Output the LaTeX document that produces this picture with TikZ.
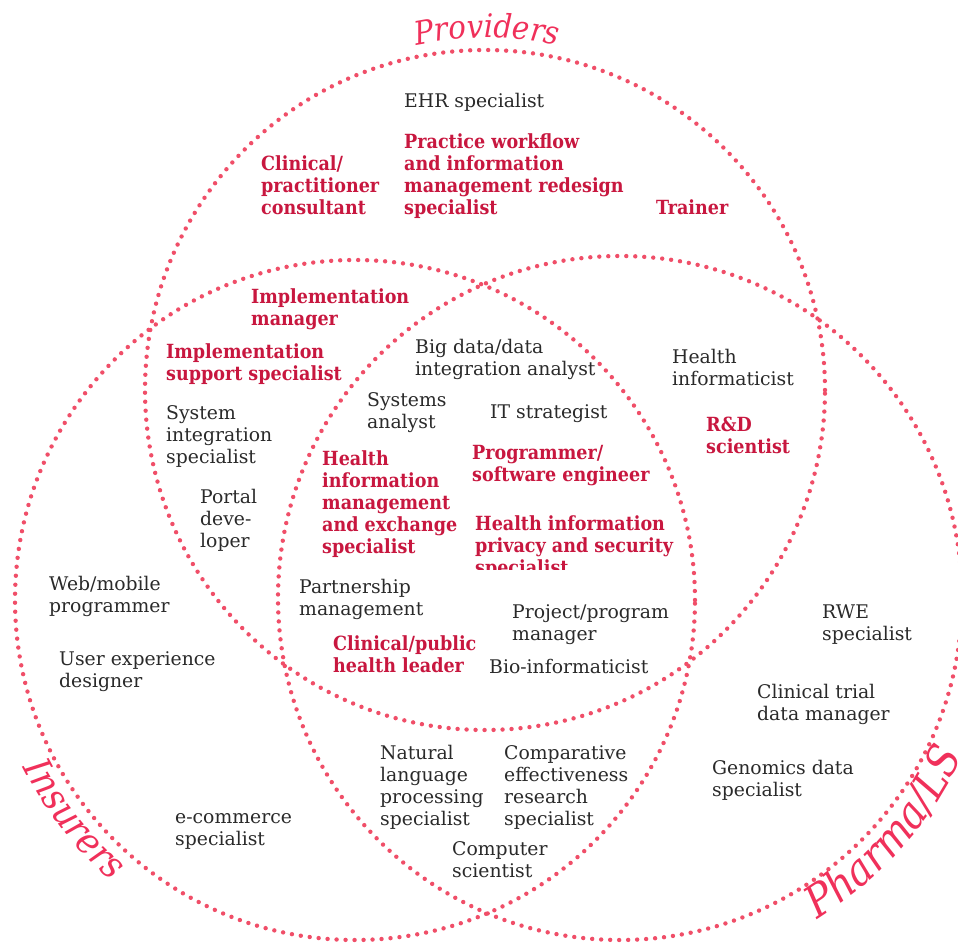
\documentclass[tikz,border=0pt]{standalone}
\usepackage{fontspec}
\setmainfont{DejaVu Serif}
\newfontfamily\condfont{DejaVu Serif Condensed}
\usetikzlibrary{decorations.text}
\definecolor{dotc}{HTML}{F04E68}
\definecolor{redt}{HTML}{C8173F}
\definecolor{blk}{HTML}{2A2A2A}
\definecolor{catc}{HTML}{F0305A}
\newcommand\provfont{\condfont\itshape\fontsize{32.5}{33}\selectfont}
\newcommand\insfont{\condfont\itshape\fontsize{38}{38}\selectfont}
\newcommand\phafont{\condfont\itshape\fontsize{44}{44}\selectfont}
\tikzset{
  venn/.style={draw=dotc, line width=4.4pt, line cap=round, dash pattern=on 0pt off 9pt},
  role/.style={anchor=base west, inner sep=0pt, align=left, text=blk,
    font=\fontsize{18.8}{22}\selectfont},
  keyrole/.style={role, text=redt, font=\condfont\bfseries\fontsize{19.5}{22}\selectfont},
}
\begin{document}
\begin{tikzpicture}[x=1pt,y=1pt]
\useasboundingbox (0,0) rectangle (958,-942);
\clip (0,0) rectangle (958,-942);
\fill[white] (0,0) rectangle (958,-942);
% circles
\draw[venn] (485,-390) circle[radius=340];
\draw[venn] (355,-600) circle[radius=340];
\draw[venn] (620,-598) circle[radius=342];
% category labels
\path[decorate, decoration={text along path, text align=center,
  text={|\provfont\color{catc}|Providers}}]
  (487,-390) ++(118:352) arc[start angle=118, end angle=62, radius=352];
\path[decorate, decoration={text along path, text align=center,
  text={|\insfont\color{catc}|Insurers}}]
  (355,-600) ++(196:372) arc[start angle=196, end angle=240, radius=372];
\path[decorate, decoration={text along path, text align=left,
  text={|\phafont\color{catc}|Pharma/LS}}]
  (620,-598) ++(-58.5:377) arc[start angle=-58.5, end angle=-5, radius=377];
% providers only (base = last line)
\node[role] (ehr) at (404,-107) {EHR specialist};
\node[keyrole] (pwf) at (404,-214) {Practice workflow\\and information\\management redesign\\specialist};
\node[keyrole] (cpc) at (261,-214) {Clinical/\\practitioner\\consultant};
\node[keyrole] (trn) at (656,-214) {Trainer};
% providers + insurers
\node[keyrole] (imm) at (251,-325) {Implementation\\manager};
\node[keyrole] (iss) at (166,-380) {Implementation\\support specialist};
\node[role] (sis) at (166,-463) {System\\integration\\specialist};
\node[role] (pdv) at (200,-547) {Portal\\deve-\\loper};
% insurers only
\node[role] (wmp) at (49,-612) {Web/mobile\\programmer};
\node[role] (uxd) at (59,-687) {User experience\\designer};
\node[role] (ecs) at (175,-845) {e-commerce\\specialist};
% centre
\node[role] (bdi) at (415,-375) {Big data/data\\integration analyst};
\node[role] (sya) at (367,-428) {Systems\\analyst};
\node[role] (its) at (490,-418) {IT strategist};
\node[keyrole] (pse) at (472,-481) {Programmer/\\software engineer};
\node[keyrole] (hime) at (322,-553) {Health\\information\\management\\and exchange\\specialist};
\begin{scope}
  \clip (460,-500) rectangle (720,-569);
  \node[keyrole] (hips) at (475,-574) {Health information\\privacy and security\\specialist};
\end{scope}
\node[role] (ptm) at (299,-615) {Partnership\\management};
\node[role] (ppm) at (512,-640) {Project/program\\manager};
\node[keyrole] (cphl) at (333,-672) {Clinical/public\\health leader};
\node[role] (bio) at (489,-673) {Bio-informaticist};
% providers + pharma
\node[role] (hinf) at (672,-385) {Health\\informaticist};
\node[keyrole] (rds) at (706,-453) {R\&D\\scientist};
% pharma only
\node[role] (rwe) at (822,-640) {RWE\\specialist};
\node[role] (ctdm) at (757,-720) {Clinical trial\\data manager};
\node[role] (gds) at (712,-796) {Genomics data\\specialist};
% insurers + pharma
\node[role] (nlp) at (380,-825) {Natural\\language\\processing\\specialist};
\node[role] (ces) at (504,-825) {Comparative\\effectiveness\\research\\specialist};
\node[role] (csc) at (452,-877) {Computer\\scientist};
\end{tikzpicture}
\end{document}
